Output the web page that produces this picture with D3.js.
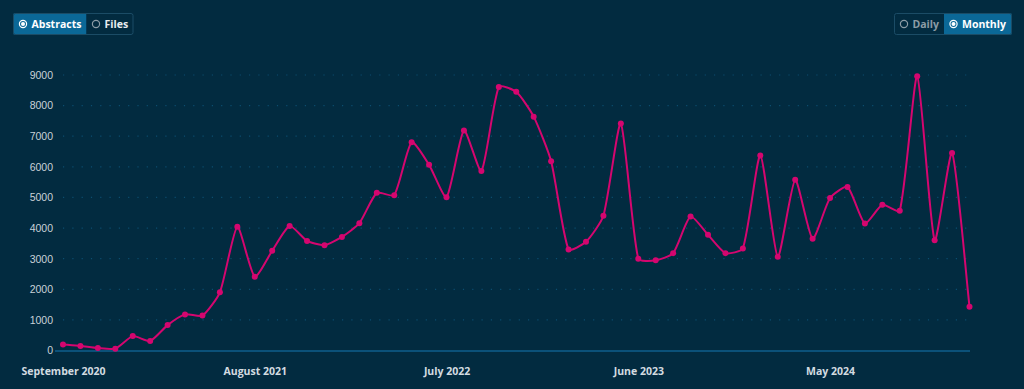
<!DOCTYPE html>
<html>
<head>
<meta charset="utf-8">
<script src="https://cdn.jsdelivr.net/npm/d3@7"></script>
<style>
    html, body { margin: 0; padding: 0; background: #022b40; }
    svg { display: block; }
</style>
</head>
<body>
<svg id="chart" width="1024" height="389"></svg>
<script>
// monthly counts, Sep 2020 .. Jan 2025
const months = [
    "2020-09","2020-10","2020-11","2020-12","2021-01","2021-02","2021-03","2021-04","2021-05","2021-06","2021-07","2021-08",
    "2021-09","2021-10","2021-11","2021-12","2022-01","2022-02","2022-03","2022-04","2022-05","2022-06","2022-07","2022-08",
    "2022-09","2022-10","2022-11","2022-12","2023-01","2023-02","2023-03","2023-04","2023-05","2023-06","2023-07","2023-08",
    "2023-09","2023-10","2023-11","2023-12","2024-01","2024-02","2024-03","2024-04","2024-05","2024-06","2024-07","2024-08",
    "2024-09","2024-10","2024-11","2024-12","2025-01"
];
const counts = [
    200, 150, 80, 60, 470, 310, 830, 1180, 1140, 1900, 4040, 2410,
    3260, 4070, 3580, 3440, 3710, 4160, 5150, 5075, 6805, 6065, 5010, 7190,
    5860, 8610, 8450, 7640, 6185, 3300, 3550, 4400, 7415, 3000, 2945, 3180,
    4380, 3780, 3180, 3335, 6370, 3060, 5575, 3650, 4980, 5345, 4150, 4760,
    4565, 8960, 3600, 6455, 1430
];
const yTicks = [0, 1000, 2000, 3000, 4000, 5000, 6000, 7000, 8000, 9000];
const xTickLabels = ["September 2020", "August 2021", "July 2022", "June 2023", "May 2024"];
const xTickMonths = ["2020-09", "2021-08", "2022-07", "2023-06", "2024-05"];

const leftToggle = ["Abstracts", "Files"];
const rightToggle = ["Daily", "Monthly"];

const svg = d3.select("#chart");

const x = d3.scalePoint().domain(months).range([63, 969.5]);
const y = d3.scaleLinear().domain([0, 9000]).range([350.5, 75]);

// grid
svg.append("g")
    .selectAll("line")
    .data(yTicks.slice(1))
    .enter().append("line")
    .attr("x1", 63).attr("x2", 972)
    .attr("y1", d => y(d)).attr("y2", d => y(d))
    .attr("stroke", "#0c4d6e")
    .attr("stroke-width", 1.2)
    .attr("stroke-dasharray", "1.2,8.1");

// y axis labels
const yAxis = svg.append("g")
    .attr("transform", "translate(53,0)")
    .call(d3.axisLeft(y).tickValues(yTicks).tickSize(0).tickPadding(0).tickFormat(d3.format("d")));
yAxis.select(".domain").remove();
yAxis.selectAll("text")
    .attr("fill", "#c9d2d8")
    .style("font-family", "'Liberation Sans', Arial, sans-serif")
    .style("font-size", "10.5px");

// baseline
svg.append("line")
    .attr("x1", 55).attr("x2", 970)
    .attr("y1", y(0) + 0.5).attr("y2", y(0) + 0.5)
    .attr("stroke", "#0f5f8c")
    .attr("stroke-width", 1.5);

// x axis labels
const xAxis = svg.append("g")
    .attr("transform", "translate(0,375)")
    .call(d3.axisBottom(x).tickValues(xTickMonths).tickSize(0).tickPadding(0)
        .tickFormat((d, i) => xTickLabels[i]));
xAxis.select(".domain").remove();
xAxis.selectAll("text")
    .attr("fill", "#d3dbe0")
    .attr("y", 0)
    .attr("dy", "0")
    .style("font-family", "'Open Sans', sans-serif")
    .style("font-weight", "700")
    .style("font-size", "10.5px");

// spline with distance weighted control points, low tension
const pts = counts.map((d, i) => ({ x: x(months[i]), y: y(d) }));
const tension = 0.2;
pts.forEach((p, i) => {
    const prev = pts[i - 1] || p;
    const next = pts[i + 1] || p;
    const d01 = Math.hypot(p.x - prev.x, p.y - prev.y);
    const d12 = Math.hypot(next.x - p.x, next.y - p.y);
    const s01 = d01 + d12 ? d01 / (d01 + d12) : 0;
    const s12 = d01 + d12 ? d12 / (d01 + d12) : 0;
    const fa = tension * s01, fb = tension * s12;
    p.cpPrev = { x: p.x - fa * (next.x - prev.x), y: p.y - fa * (next.y - prev.y) };
    p.cpNext = { x: p.x + fb * (next.x - prev.x), y: p.y + fb * (next.y - prev.y) };
});
const path = d3.path();
path.moveTo(pts[0].x, pts[0].y);
for (let i = 1; i < pts.length; i++) {
    const a = pts[i - 1], b = pts[i];
    path.bezierCurveTo(a.cpNext.x, a.cpNext.y, b.cpPrev.x, b.cpPrev.y, b.x, b.y);
}

svg.append("path")
    .attr("d", path.toString())
    .attr("fill", "none")
    .attr("stroke", "#d5066f")
    .attr("stroke-width", 2);

svg.append("g")
    .selectAll("circle")
    .data(counts)
    .enter().append("circle")
    .attr("cx", (d, i) => x(months[i]))
    .attr("cy", d => y(d))
    .attr("r", 3)
    .attr("fill", "#d5066f");

// toggle buttons
function drawToggle(x0, widths, labels, selected) {
    const g = svg.append("g").attr("transform", `translate(${x0},13.5)`);
    const total = d3.sum(widths);
    let offs = 0;
    labels.forEach((lab, i) => {
        const on = i === selected;
        g.append("rect")
            .attr("x", offs).attr("y", 0)
            .attr("width", widths[i]).attr("height", 21)
            .attr("fill", on ? "#0b6897" : "#022b40");
        g.append("circle")
            .attr("cx", offs + 9.5).attr("cy", 10.5).attr("r", 3.6)
            .attr("fill", "none")
            .attr("stroke", on ? "#ffffff" : "#8c9ca6")
            .attr("stroke-width", 1.2);
        if (on) {
            g.append("circle")
                .attr("cx", offs + 9.5).attr("cy", 10.5).attr("r", 2)
                .attr("fill", "#ffffff");
        }
        g.append("text")
            .attr("x", offs + 18).attr("y", 14.5)
            .attr("fill", on ? "#ffffff" : (selected === 0 ? "#e8edf0" : "#8c9ca6"))
            .style("font-family", "'Open Sans', sans-serif")
            .style("font-weight", "700")
            .style("font-size", "10.5px")
            .text(lab);
        offs += widths[i];
    });
    g.append("rect")
        .attr("x", 0).attr("y", 0)
        .attr("width", total).attr("height", 21)
        .attr("rx", 2)
        .attr("fill", "none")
        .attr("stroke", "#1b4c66")
        .attr("stroke-width", 1);
}

drawToggle(13.5, [73, 46.5], leftToggle, 0);
drawToggle(894.5, [49.5, 67.5], rightToggle, 1);
</script>
</body>
</html>
